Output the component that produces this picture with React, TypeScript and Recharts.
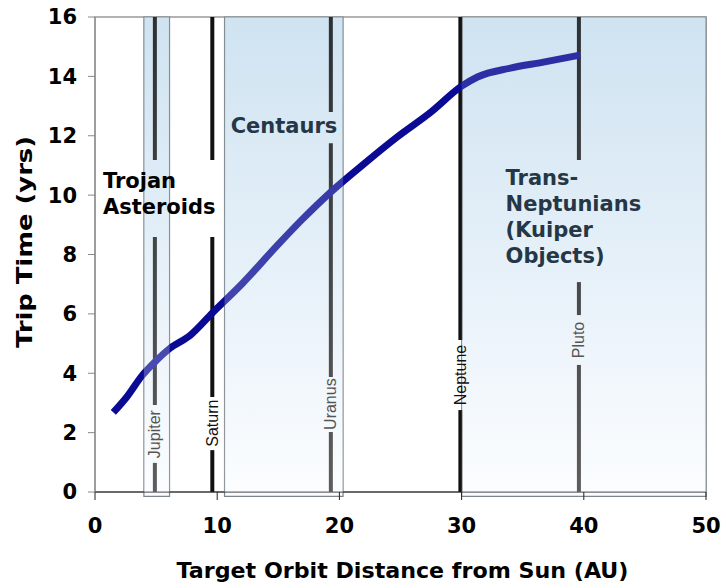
import { LineChart, Line, XAxis, YAxis, ReferenceArea, ReferenceLine, ReferenceDot } from 'recharts'

// curve: trip time vs target distance
const distanceAU = [1.5, 2.6, 3.85, 4.9, 6.1, 7.8, 9.6, 12.1, 14.9, 17.0, 19.2, 22.0, 24.7, 27.5, 30.0, 31.3, 34.0, 36.7, 39.7]
const tripYears = [2.68, 3.2, 3.92, 4.38, 4.83, 5.28, 6.03, 7.04, 8.3, 9.2, 10.07, 11.05, 11.95, 12.8, 13.67, 13.98, 14.28, 14.48, 14.72]

const xTicks = [0, 10, 20, 30, 40, 50]
const yTicks = [0, 2, 4, 6, 8, 10, 12, 14, 16]

// shaded belts
const beltLines = [['Trojan', 'Asteroids'], ['Centaurs'], ['Trans-', 'Neptunians', '(Kuiper', 'Objects)']]
const beltFrom = [4.0, 10.6, 30.0]
const beltTo = [6.1, 20.3, 50]
const beltTextX = [0.65, 11.1, 33.6]
const beltTextY = [10.24, 12.09, 10.34]
const beltTextColor = ['#000', '#253746', '#253746']

// planet orbits
const planetNames = ['Jupiter', 'Saturn', 'Uranus', 'Neptune', 'Pluto']
const planetAU = [4.9, 9.6, 19.3, 29.9, 39.6]
const planetLabelY = [1.95, 2.32, 2.96, 3.94, 5.12]
const planetGaps = [
  [[0.98, 2.93], [8.59, 11.18]],
  [[1.41, 3.2], [8.59, 11.18]],
  [[2.02, 3.87], [11.75, 12.8]],
  [[2.76, 5.12]],
  [[4.28, 5.96], [7.07, 11.18]],
]
const planetTextColor = ['#555', '#111', '#555', '#111', '#555']

const data = distanceAU.map((au, i) => ({ au, years: tripYears[i] }))

const FONT = 'DejaVu Sans, Verdana, sans-serif'

function segmentsFor(gaps: number[][]) {
  const segs: [number, number][] = []
  let start = 0
  gaps.forEach(([a, b]) => {
    segs.push([start, a])
    start = b
  })
  segs.push([start, 16])
  return segs
}

function YTitle(props: any) {
  const vb = props.viewBox
  const cx = vb.x + 25
  const cy = 242
  return (
    <text x={cx} y={cy} transform={`rotate(-90 ${cx} ${cy})`} textAnchor="middle" dominantBaseline="central"
      fontSize={21} fontWeight="bold" fontFamily={FONT} fill="#000" textLength={212} lengthAdjust="spacingAndGlyphs">
      Trip Time (yrs)
    </text>
  )
}

function XTitle(props: any) {
  const vb = props.viewBox
  const cx = vb.x + vb.width / 2 + 2
  return (
    <text x={cx} y={578} textAnchor="middle" fontSize={22} fontWeight="bold" fontFamily={FONT} fill="#000"
      textLength={452} lengthAdjust="spacingAndGlyphs">
      Target Orbit Distance from Sun (AU)
    </text>
  )
}

export default function App() {
  return (
    <div style={{ position: 'absolute', left: 0, top: 0, background: '#fff' }}>
      <LineChart width={725} height={583} data={data} margin={{ top: 17, right: 19, bottom: 0, left: 0 }}>
        <defs>
          <linearGradient id="beltFill" x1="0" y1="0" x2="0" y2="1">
            <stop offset="0%" stopColor="#cfe3f1" />
            <stop offset="100%" stopColor="#fafcff" />
          </linearGradient>
          <linearGradient id="beltGlaze" x1="0" y1="0" x2="0" y2="1">
            <stop offset="0%" stopColor="#cfe3f1" stopOpacity={0.15} />
            <stop offset="100%" stopColor="#ffffff" stopOpacity={0.32} />
          </linearGradient>
        </defs>
        <XAxis dataKey="au" type="number" domain={[0, 50]} ticks={xTicks} allowDataOverflow
          tickSize={8} tickMargin={18} stroke="#222" height={91}
          tick={{ fill: '#000', fontSize: 21, fontWeight: 'bold', fontFamily: FONT }}
          label={{ content: XTitle }} />
        <YAxis type="number" domain={[0, 16]} ticks={yTicks} width={95} tickSize={7} tickMargin={11}
          stroke="#888" tick={{ fill: '#000', fontSize: 21, fontWeight: 'bold', fontFamily: FONT }}
          label={{ content: YTitle }} />

        <ReferenceArea x1={0} x2={50} y1={0} y2={16} fill="none" stroke="#999" strokeWidth={1.5} />
        {beltFrom.map((from, i) => (
          <ReferenceArea key={'b' + i} x1={from} x2={beltTo[i]} y1={-0.15} y2={16} ifOverflow="visible"
            fill="url(#beltFill)" fillOpacity={1} stroke="#7d868c" strokeWidth={1.2} />
        ))}

        {planetAU.map((au, i) =>
          segmentsFor(planetGaps[i]).map(([a, b], j) => (
            <ReferenceLine key={'p' + i + '-' + j} segment={[{ x: au, y: a }, { x: au, y: b }]}
              stroke="#111" strokeWidth={4} ifOverflow="visible" />
          ))
        )}

        <Line dataKey="years" type="monotone" stroke="#0a0a94" strokeWidth={7} dot={false}
          activeDot={false} isAnimationActive={false} strokeLinecap="butt" />

        {beltFrom.map((from, i) => (
          <ReferenceArea key={'g' + i} x1={from} x2={beltTo[i]} y1={0} y2={16} ifOverflow="visible"
            fill="url(#beltGlaze)" fillOpacity={1} stroke="none" zIndex={700} />
        ))}

        {planetNames.map((name, i) => (
          <ReferenceDot key={'n' + i} x={planetAU[i]} y={planetLabelY[i]} r={0} ifOverflow="visible" zIndex={800}
            shape={(p: any) => (
              <text x={p.cx} y={p.cy} transform={`rotate(-90 ${p.cx} ${p.cy})`} textAnchor="middle"
                dominantBaseline="central" fontSize={16} fontFamily="Liberation Sans, Arial, sans-serif"
                fill={planetTextColor[i]}>
                {name}
              </text>
            )} />
        ))}

        {beltLines.map((lines, i) => (
          <ReferenceDot key={'t' + i} x={beltTextX[i]} y={beltTextY[i]} r={0} ifOverflow="visible" zIndex={800}
            shape={(p: any) => (
              <text x={p.cx} y={p.cy} fontSize={21} fontWeight="bold" fontFamily={FONT} fill={beltTextColor[i]}>
                {lines.map((ln, k) => (
                  <tspan key={k} x={p.cx} dy={k === 0 ? 0 : 26}>{ln}</tspan>
                ))}
              </text>
            )} />
        ))}
      </LineChart>
    </div>
  )
}
